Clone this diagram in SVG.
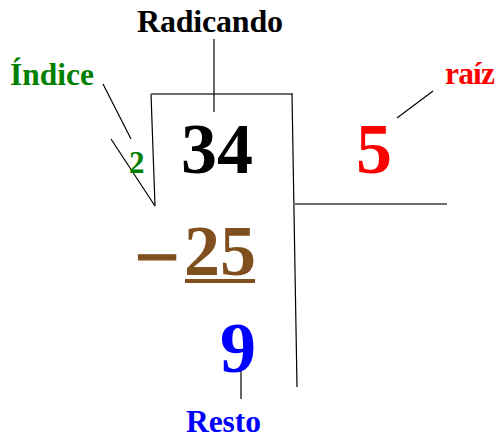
<svg xmlns="http://www.w3.org/2000/svg" width="499" height="440" viewBox="0 0 499 440">
<style>
.t{font-family:"Liberation Serif","Times New Roman",serif;font-weight:bold}
.lbl{font-size:31.5px}
.big{font-size:72px}
.ln{stroke:#000;stroke-width:1.2;fill:none}
.gr{stroke:#6e6e6e;stroke-width:2;fill:none}
</style>
<rect width="499" height="440" fill="#fff"/>
<g id="connectors">
<line class="ln" x1="103" y1="84" x2="131" y2="139"/>
<line class="ln" x1="111" y1="139" x2="155" y2="206"/>
<line class="ln" x1="155" y1="206" x2="151" y2="94"/>
<line class="gr" x1="151" y1="94" x2="293" y2="94"/>
<line class="ln" x1="292" y1="94" x2="297" y2="387"/>
<line class="gr" x1="293" y1="204" x2="447" y2="204"/>
<line class="ln" x1="214" y1="39" x2="214" y2="112"/>
<line class="ln" x1="397" y1="118" x2="433" y2="91"/>
<line class="ln" x1="241" y1="370" x2="241" y2="399"/>
</g>
<g id="radicando"><text class="t" x="210" y="32" font-size="32" text-anchor="middle" textLength="146" fill="#000">Radicando</text></g>
<g id="indice"><text class="t lbl" x="10" y="85" textLength="84" fill="#008000">Índice</text></g>
<g id="raiz"><text class="t lbl" x="445" y="84" textLength="50" fill="#ff0000">raíz</text></g>
<g id="indice-valor"><text class="t" x="129" y="173" font-size="31" fill="#008000">2</text></g>
<g id="radicando-valor"><text class="t big" x="181" y="173" fill="#000">34</text></g>
<g id="raiz-valor"><text class="t big" x="356" y="173" fill="#ff0000">5</text></g>
<g id="resta">
<text class="t big" x="0" y="0" transform="translate(134.5 281) scale(1.1 1)" fill="#7f4f1e" stroke="#7f4f1e" stroke-width="1.4">−</text>
<text class="t big" x="184" y="275" fill="#7f4f1e">25</text>
<rect x="185" y="279" width="70" height="4" fill="#7f4f1e"/>
</g>
<g id="resto-valor"><text class="t big" x="220" y="372" fill="#0000ff">9</text></g>
<g id="resto"><text class="t lbl" x="186" y="432" textLength="75" fill="#0000ff">Resto</text></g>
</svg>
